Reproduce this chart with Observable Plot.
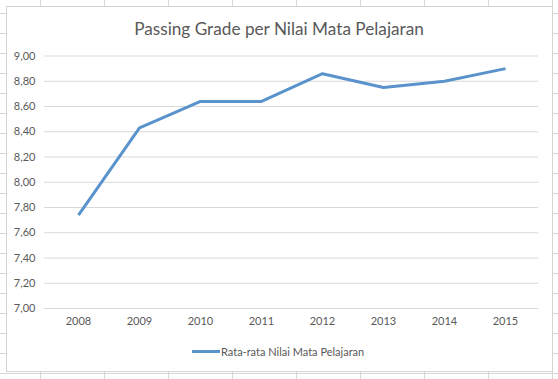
<!DOCTYPE html>
<html>
<head>
<meta charset="utf-8">
<script src="https://cdn.jsdelivr.net/npm/d3@7"></script>
<script src="https://cdn.jsdelivr.net/npm/@observablehq/plot@0.6"></script>
<style>
  html, body { margin: 0; padding: 0; }
  body {
    width: 558px; height: 379px; position: relative; overflow: hidden;
    background-color: #fff;
    background-image:
      linear-gradient(to right, #d6d6d6 1px, transparent 1px),
      linear-gradient(to bottom, #d6d6d6 1px, transparent 1px);
    background-size: 64px 20px, 64px 20px;
    background-position: 40px 0, 0 13px;
    font-family: Lato, "Open Sans", sans-serif;
  }
  #box {
    position: absolute; left: 6px; top: 6px; width: 547px; height: 366px;
    box-sizing: border-box; border: 1px solid #d4d4d4; background: #fff;
  }
  #chart { position: absolute; left: 0; top: 0; }
  #title {
    position: absolute; left: 0; width: 558px; top: 18px; text-align: center;
    font-size: 17.2px; color: #595959; line-height: 22px;
  }
  #legend {
    position: absolute; left: 192px; top: 343px; height: 16px;
    display: flex; align-items: center; font-size: 11px; color: #595959;
  }
  #legend .sw { width: 28px; height: 3px; background: #5a93cc; margin-right: 1px; }
</style>
</head>
<body>
<div id="box"></div>
<div id="title">Passing Grade per Nilai Mata Pelajaran</div>
<div id="chart"></div>
<div id="legend"><span class="sw"></span><span>Rata-rata Nilai Mata Pelajaran</span></div>
<script>
const years = ["2008", "2009", "2010", "2011", "2012", "2013", "2014", "2015"];
const values = [7.74, 8.43, 8.64, 8.64, 8.86, 8.75, 8.80, 8.90];
const yTicks = [7.0, 7.2, 7.4, 7.6, 7.8, 8.0, 8.2, 8.4, 8.6, 8.8, 9.0];
const seriesName = "Rata-rata Nilai Mata Pelajaran";

const data = years.map((y, i) => ({year: y, value: values[i]}));
const fmt = v => v.toFixed(2).replace(".", ",");

const chart = Plot.plot({
  width: 558,
  height: 340,
  marginTop: 55.5,
  marginBottom: 32,
  marginLeft: 44,
  marginRight: 20,
  style: {background: "transparent", color: "#595959", fontFamily: "Lato, 'Open Sans', sans-serif", fontSize: "11px"},
  x: {type: "point", domain: years, padding: 0.5, label: null},
  y: {domain: [7, 9], label: null},
  marks: [
    Plot.ruleY(yTicks, {stroke: "#d9d9d9", strokeWidth: 1}),
    Plot.axisY({ticks: yTicks, tickSize: 0, tickPadding: 9, tickFormat: fmt, label: null, fontSize: 11}),
    Plot.axisX({tickSize: 0, tickPadding: 9, label: null, fontSize: 11}),
    Plot.line(data, {x: "year", y: "value", stroke: "#5a93cc", strokeWidth: 3, strokeLinejoin: "round", strokeLinecap: "butt"})
  ]
});
document.getElementById("chart").appendChild(chart);
</script>
</body>
</html>
